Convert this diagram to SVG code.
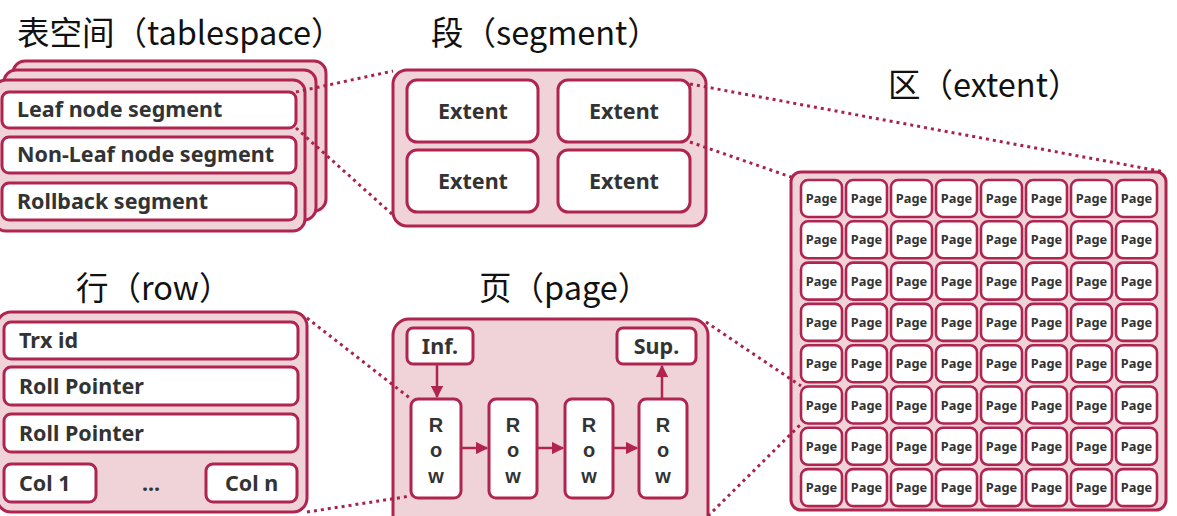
<svg xmlns="http://www.w3.org/2000/svg" width="1177" height="516" viewBox="0 0 1177 516">
<style>
.bg{fill:#ffffff}
.outer{fill:#efd3d9;stroke:#b02450;stroke-width:3}
.box{fill:#ffffff;stroke:#b02450;stroke-width:3}
.pg{fill:#ffffff;stroke:#b02450;stroke-width:2.6}
.lbl{font-family:"Noto Sans","Open Sans","Liberation Sans",sans-serif;font-weight:bold;fill:#333333}
.l20{font-size:21.5px}
.lc{text-anchor:middle}
.rw{font-family:"Liberation Sans",Arial,sans-serif;font-weight:bold;fill:#333333;font-size:20px;text-anchor:middle}
.ps{font-size:12.8px;text-anchor:middle}
.title{font-family:"Noto Sans CJK SC","Noto Sans",sans-serif;font-size:32.5px;fill:#111111}
.dot{fill:none;stroke:#a8234a;stroke-width:3;stroke-dasharray:3 4}
.arr{fill:none;stroke:#b02450;stroke-width:2.5}
</style>
<defs>
<marker id="ah" viewBox="0 0 10 10" refX="9" refY="5" markerWidth="5" markerHeight="5" orient="auto" markerUnits="strokeWidth">
<path d="M0,0 L10,5 L0,10 z" fill="#b02450"/>
</marker>
</defs>
<rect class="bg" x="0" y="0" width="1177" height="516"/>

<g id="titles">
<text class="title" x="17" y="45">表空间（tablespace）</text>
<text class="title" x="431" y="45">段（segment）</text>
<text class="title" x="888" y="97">区（extent）</text>
<text class="title" x="76" y="300">行（row）</text>
<text class="title" x="479" y="300">页（page）</text>
</g>

<g id="tablespace">
<rect class="outer" x="13" y="61" width="313" height="150" rx="12"/>
<rect class="outer" x="4" y="70" width="312" height="150" rx="12"/>
<rect class="outer" x="-6" y="80" width="311" height="151" rx="12"/>
<rect class="box" x="2" y="92" width="294" height="36" rx="7"/>
<text class="lbl l20" x="17" y="117">Leaf node segment</text>
<rect class="box" x="2" y="137" width="294" height="36" rx="7"/>
<text class="lbl l20" x="17" y="162">Non-Leaf node segment</text>
<rect class="box" x="2" y="183" width="294" height="37" rx="7"/>
<text class="lbl l20" x="17" y="209">Rollback segment</text>
</g>

<g id="segment">
<rect class="outer" x="393" y="70" width="313" height="156" rx="14"/>
<rect class="box" x="407" y="80" width="131" height="62" rx="10"/>
<text class="lbl l20 lc" x="473" y="119">Extent</text>
<rect class="box" x="558" y="80" width="132" height="62" rx="10"/>
<text class="lbl l20 lc" x="624" y="119">Extent</text>
<rect class="box" x="407" y="150" width="131" height="62" rx="10"/>
<text class="lbl l20 lc" x="473" y="189">Extent</text>
<rect class="box" x="558" y="150" width="132" height="62" rx="10"/>
<text class="lbl l20 lc" x="624" y="189">Extent</text>
</g>

<g id="extent">
<rect class="outer" x="791" y="172" width="375" height="338" rx="10"/>
<g id="pages">
<rect class="pg" x="801" y="180" width="41" height="37" rx="7"/><text class="lbl ps" x="821.5" y="203">Page</text>
<rect class="pg" x="846" y="180" width="41" height="37" rx="7"/><text class="lbl ps" x="866.5" y="203">Page</text>
<rect class="pg" x="891" y="180" width="41" height="37" rx="7"/><text class="lbl ps" x="911.5" y="203">Page</text>
<rect class="pg" x="936" y="180" width="41" height="37" rx="7"/><text class="lbl ps" x="956.5" y="203">Page</text>
<rect class="pg" x="981" y="180" width="41" height="37" rx="7"/><text class="lbl ps" x="1001.5" y="203">Page</text>
<rect class="pg" x="1026" y="180" width="41" height="37" rx="7"/><text class="lbl ps" x="1046.5" y="203">Page</text>
<rect class="pg" x="1071" y="180" width="41" height="37" rx="7"/><text class="lbl ps" x="1091.5" y="203">Page</text>
<rect class="pg" x="1116" y="180" width="41" height="37" rx="7"/><text class="lbl ps" x="1136.5" y="203">Page</text>

<rect class="pg" x="801" y="221.3" width="41" height="37" rx="7"/><text class="lbl ps" x="821.5" y="244.3">Page</text>
<rect class="pg" x="846" y="221.3" width="41" height="37" rx="7"/><text class="lbl ps" x="866.5" y="244.3">Page</text>
<rect class="pg" x="891" y="221.3" width="41" height="37" rx="7"/><text class="lbl ps" x="911.5" y="244.3">Page</text>
<rect class="pg" x="936" y="221.3" width="41" height="37" rx="7"/><text class="lbl ps" x="956.5" y="244.3">Page</text>
<rect class="pg" x="981" y="221.3" width="41" height="37" rx="7"/><text class="lbl ps" x="1001.5" y="244.3">Page</text>
<rect class="pg" x="1026" y="221.3" width="41" height="37" rx="7"/><text class="lbl ps" x="1046.5" y="244.3">Page</text>
<rect class="pg" x="1071" y="221.3" width="41" height="37" rx="7"/><text class="lbl ps" x="1091.5" y="244.3">Page</text>
<rect class="pg" x="1116" y="221.3" width="41" height="37" rx="7"/><text class="lbl ps" x="1136.5" y="244.3">Page</text>

<rect class="pg" x="801" y="262.6" width="41" height="37" rx="7"/><text class="lbl ps" x="821.5" y="285.6">Page</text>
<rect class="pg" x="846" y="262.6" width="41" height="37" rx="7"/><text class="lbl ps" x="866.5" y="285.6">Page</text>
<rect class="pg" x="891" y="262.6" width="41" height="37" rx="7"/><text class="lbl ps" x="911.5" y="285.6">Page</text>
<rect class="pg" x="936" y="262.6" width="41" height="37" rx="7"/><text class="lbl ps" x="956.5" y="285.6">Page</text>
<rect class="pg" x="981" y="262.6" width="41" height="37" rx="7"/><text class="lbl ps" x="1001.5" y="285.6">Page</text>
<rect class="pg" x="1026" y="262.6" width="41" height="37" rx="7"/><text class="lbl ps" x="1046.5" y="285.6">Page</text>
<rect class="pg" x="1071" y="262.6" width="41" height="37" rx="7"/><text class="lbl ps" x="1091.5" y="285.6">Page</text>
<rect class="pg" x="1116" y="262.6" width="41" height="37" rx="7"/><text class="lbl ps" x="1136.5" y="285.6">Page</text>

<rect class="pg" x="801" y="303.9" width="41" height="37" rx="7"/><text class="lbl ps" x="821.5" y="326.9">Page</text>
<rect class="pg" x="846" y="303.9" width="41" height="37" rx="7"/><text class="lbl ps" x="866.5" y="326.9">Page</text>
<rect class="pg" x="891" y="303.9" width="41" height="37" rx="7"/><text class="lbl ps" x="911.5" y="326.9">Page</text>
<rect class="pg" x="936" y="303.9" width="41" height="37" rx="7"/><text class="lbl ps" x="956.5" y="326.9">Page</text>
<rect class="pg" x="981" y="303.9" width="41" height="37" rx="7"/><text class="lbl ps" x="1001.5" y="326.9">Page</text>
<rect class="pg" x="1026" y="303.9" width="41" height="37" rx="7"/><text class="lbl ps" x="1046.5" y="326.9">Page</text>
<rect class="pg" x="1071" y="303.9" width="41" height="37" rx="7"/><text class="lbl ps" x="1091.5" y="326.9">Page</text>
<rect class="pg" x="1116" y="303.9" width="41" height="37" rx="7"/><text class="lbl ps" x="1136.5" y="326.9">Page</text>

<rect class="pg" x="801" y="345.2" width="41" height="37" rx="7"/><text class="lbl ps" x="821.5" y="368.2">Page</text>
<rect class="pg" x="846" y="345.2" width="41" height="37" rx="7"/><text class="lbl ps" x="866.5" y="368.2">Page</text>
<rect class="pg" x="891" y="345.2" width="41" height="37" rx="7"/><text class="lbl ps" x="911.5" y="368.2">Page</text>
<rect class="pg" x="936" y="345.2" width="41" height="37" rx="7"/><text class="lbl ps" x="956.5" y="368.2">Page</text>
<rect class="pg" x="981" y="345.2" width="41" height="37" rx="7"/><text class="lbl ps" x="1001.5" y="368.2">Page</text>
<rect class="pg" x="1026" y="345.2" width="41" height="37" rx="7"/><text class="lbl ps" x="1046.5" y="368.2">Page</text>
<rect class="pg" x="1071" y="345.2" width="41" height="37" rx="7"/><text class="lbl ps" x="1091.5" y="368.2">Page</text>
<rect class="pg" x="1116" y="345.2" width="41" height="37" rx="7"/><text class="lbl ps" x="1136.5" y="368.2">Page</text>

<rect class="pg" x="801" y="386.5" width="41" height="37" rx="7"/><text class="lbl ps" x="821.5" y="409.5">Page</text>
<rect class="pg" x="846" y="386.5" width="41" height="37" rx="7"/><text class="lbl ps" x="866.5" y="409.5">Page</text>
<rect class="pg" x="891" y="386.5" width="41" height="37" rx="7"/><text class="lbl ps" x="911.5" y="409.5">Page</text>
<rect class="pg" x="936" y="386.5" width="41" height="37" rx="7"/><text class="lbl ps" x="956.5" y="409.5">Page</text>
<rect class="pg" x="981" y="386.5" width="41" height="37" rx="7"/><text class="lbl ps" x="1001.5" y="409.5">Page</text>
<rect class="pg" x="1026" y="386.5" width="41" height="37" rx="7"/><text class="lbl ps" x="1046.5" y="409.5">Page</text>
<rect class="pg" x="1071" y="386.5" width="41" height="37" rx="7"/><text class="lbl ps" x="1091.5" y="409.5">Page</text>
<rect class="pg" x="1116" y="386.5" width="41" height="37" rx="7"/><text class="lbl ps" x="1136.5" y="409.5">Page</text>

<rect class="pg" x="801" y="427.8" width="41" height="37" rx="7"/><text class="lbl ps" x="821.5" y="450.8">Page</text>
<rect class="pg" x="846" y="427.8" width="41" height="37" rx="7"/><text class="lbl ps" x="866.5" y="450.8">Page</text>
<rect class="pg" x="891" y="427.8" width="41" height="37" rx="7"/><text class="lbl ps" x="911.5" y="450.8">Page</text>
<rect class="pg" x="936" y="427.8" width="41" height="37" rx="7"/><text class="lbl ps" x="956.5" y="450.8">Page</text>
<rect class="pg" x="981" y="427.8" width="41" height="37" rx="7"/><text class="lbl ps" x="1001.5" y="450.8">Page</text>
<rect class="pg" x="1026" y="427.8" width="41" height="37" rx="7"/><text class="lbl ps" x="1046.5" y="450.8">Page</text>
<rect class="pg" x="1071" y="427.8" width="41" height="37" rx="7"/><text class="lbl ps" x="1091.5" y="450.8">Page</text>
<rect class="pg" x="1116" y="427.8" width="41" height="37" rx="7"/><text class="lbl ps" x="1136.5" y="450.8">Page</text>

<rect class="pg" x="801" y="469.1" width="41" height="37" rx="7"/><text class="lbl ps" x="821.5" y="492.1">Page</text>
<rect class="pg" x="846" y="469.1" width="41" height="37" rx="7"/><text class="lbl ps" x="866.5" y="492.1">Page</text>
<rect class="pg" x="891" y="469.1" width="41" height="37" rx="7"/><text class="lbl ps" x="911.5" y="492.1">Page</text>
<rect class="pg" x="936" y="469.1" width="41" height="37" rx="7"/><text class="lbl ps" x="956.5" y="492.1">Page</text>
<rect class="pg" x="981" y="469.1" width="41" height="37" rx="7"/><text class="lbl ps" x="1001.5" y="492.1">Page</text>
<rect class="pg" x="1026" y="469.1" width="41" height="37" rx="7"/><text class="lbl ps" x="1046.5" y="492.1">Page</text>
<rect class="pg" x="1071" y="469.1" width="41" height="37" rx="7"/><text class="lbl ps" x="1091.5" y="492.1">Page</text>
<rect class="pg" x="1116" y="469.1" width="41" height="37" rx="7"/><text class="lbl ps" x="1136.5" y="492.1">Page</text>
</g>
</g>

<g id="row">
<rect class="outer" x="-3" y="312" width="310" height="200" rx="14"/>
<rect class="box" x="4" y="322" width="294" height="37" rx="7"/>
<text class="lbl l20" x="19" y="348">Trx id</text>
<rect class="box" x="4" y="367" width="294" height="38" rx="7"/>
<text class="lbl l20" x="19" y="394">Roll Pointer</text>
<rect class="box" x="4" y="414" width="294" height="38" rx="7"/>
<text class="lbl l20" x="19" y="441">Roll Pointer</text>
<rect class="box" x="4" y="464" width="92" height="38" rx="7"/>
<text class="lbl l20" x="19" y="491">Col 1</text>
<text class="lbl l20 lc" x="151" y="491">...</text>
<rect class="box" x="206" y="464" width="91" height="38" rx="7"/>
<text class="lbl l20 lc" x="251.5" y="491">Col n</text>
</g>

<g id="page">
<rect class="outer" x="393" y="319" width="315" height="215" rx="16"/>
<rect class="box" x="407" y="328" width="66" height="36" rx="6"/>
<text class="lbl l20 lc" x="440" y="354">Inf.</text>
<rect class="box" x="617" y="328" width="79" height="36" rx="6"/>
<text class="lbl l20 lc" x="656.5" y="354">Sup.</text>
<rect class="box" x="411" y="399" width="50" height="99" rx="7"/>
<text class="rw" x="436" y="432"><tspan x="436">R</tspan><tspan x="436" dy="25">o</tspan><tspan x="436" dy="26">w</tspan></text>
<rect class="box" x="489" y="399" width="48" height="99" rx="7"/>
<text class="rw" x="513" y="432"><tspan x="513">R</tspan><tspan x="513" dy="25">o</tspan><tspan x="513" dy="26">w</tspan></text>
<rect class="box" x="565" y="399" width="48" height="99" rx="7"/>
<text class="rw" x="589" y="432"><tspan x="589">R</tspan><tspan x="589" dy="25">o</tspan><tspan x="589" dy="26">w</tspan></text>
<rect class="box" x="639" y="399" width="48" height="99" rx="7"/>
<text class="rw" x="663" y="432"><tspan x="663">R</tspan><tspan x="663" dy="25">o</tspan><tspan x="663" dy="26">w</tspan></text>
</g>

<g id="connectors">
<path class="arr" d="M437,364 L437,397" marker-end="url(#ah)"/>
<path class="arr" d="M662,399 L662,366" marker-end="url(#ah)"/>
<path class="arr" d="M461,448 L487,448" marker-end="url(#ah)"/>
<path class="arr" d="M537,448 L563,448" marker-end="url(#ah)"/>
<path class="arr" d="M613,448 L637,448" marker-end="url(#ah)"/>
<path class="dot" d="M296,92 L393,71"/>
<path class="dot" d="M296,128 L393,215"/>
<path class="dot" d="M690,84 L1165,172"/>
<path class="dot" d="M690,142 L791,177"/>
<path class="dot" d="M307,318 L411,399"/>
<path class="dot" d="M307,512 L411,496"/>
<path class="dot" d="M706,322 L801,386"/>
<path class="dot" d="M708,516 L801,424"/>
</g>
</svg>
